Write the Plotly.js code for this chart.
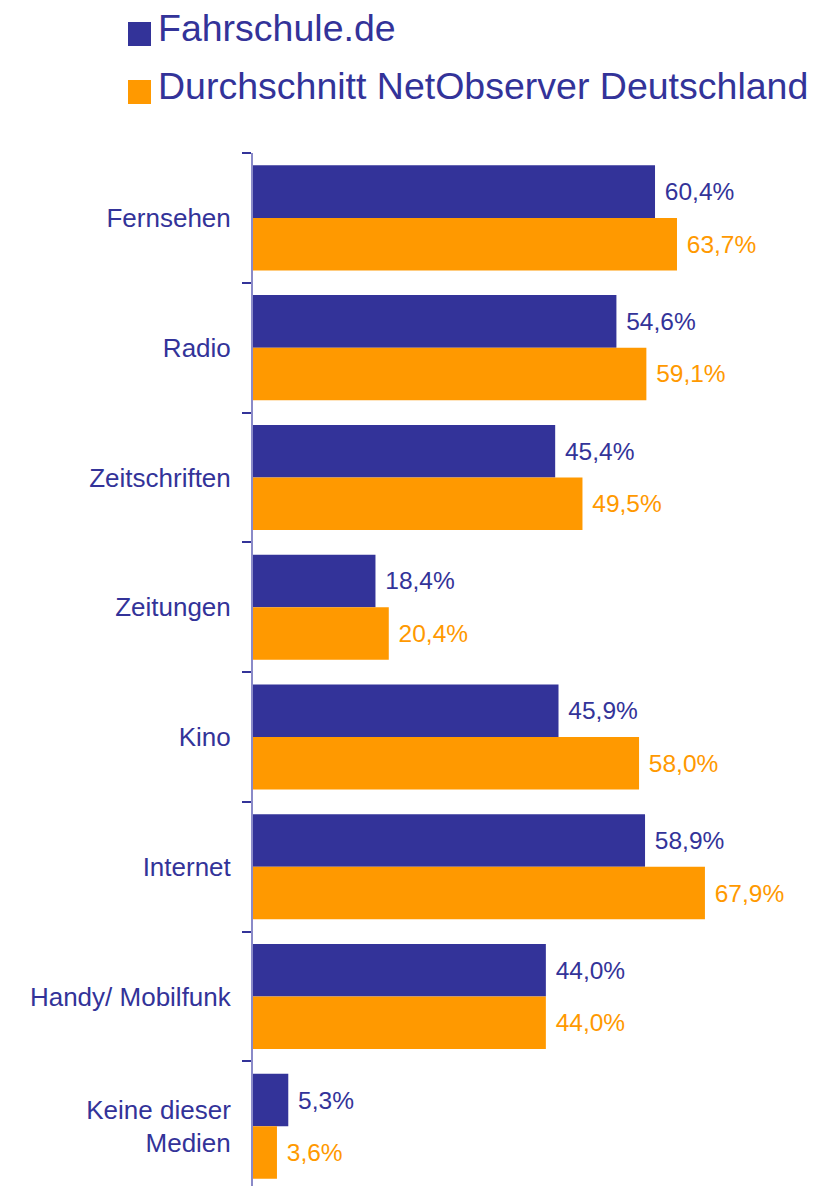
<!DOCTYPE html>
<html>
<head>
<meta charset="utf-8">
<script src="https://cdn.plot.ly/plotly-3.0.1.min.js"></script>
<style>html,body{margin:0;padding:0;background:#fff;}#chart{width:813px;height:1186px;}</style>
</head>
<body>
<div id="chart"></div>
<script>
const categories = ["Fernsehen", "Radio", "Zeitschriften", "Zeitungen", "Kino", "Internet", "Handy/ Mobilfunk", "Keine dieser<br>Medien"];
const fahrschule = [60.4, 54.6, 45.4, 18.4, 45.9, 58.9, 44.0, 5.3];
const durchschnitt = [63.7, 59.1, 49.5, 20.4, 58.0, 67.9, 44.0, 3.6];
const seriesNames = ["Fahrschule.de", "Durchschnitt NetObserver Deutschland"];

const BLUE = "#333399";
const ORANGE = "#FF9900";
const FONT = "Arial, 'Liberation Sans', sans-serif";

const fmt = v => "\u00a0" + v.toFixed(1).replace(".", ",") + "%";

const W = 813, H = 1186;
const mL = 253, mR = 0, mT = 153, mB = 0;
const pw = W - mL - mR, ph = H - mT - mB;
const px2x = p => (p - mL) / pw;
const px2y = p => (H - mB - p) / ph;

const traces = [
  {
    type: "bar", orientation: "h", name: seriesNames[0],
    y: categories, x: fahrschule,
    marker: {color: BLUE},
    text: fahrschule.map(fmt), textposition: "outside",
    outsidetextfont: {family: FONT, size: 24.5, color: BLUE},
    cliponaxis: false, hoverinfo: "none"
  },
  {
    type: "bar", orientation: "h", name: seriesNames[1],
    y: categories, x: durchschnitt,
    marker: {color: ORANGE},
    text: durchschnitt.map(fmt), textposition: "outside",
    outsidetextfont: {family: FONT, size: 24.5, color: ORANGE},
    cliponaxis: false, hoverinfo: "none"
  }
];

const legendRows = [
  {color: BLUE, text: seriesNames[0], cy: 33},
  {color: ORANGE, text: seriesNames[1], cy: 91}
];

const shapes = legendRows.map(r => ({
  type: "rect", xref: "paper", yref: "paper",
  x0: px2x(128), x1: px2x(151), y0: px2y(r.cy + 13), y1: px2y(r.cy - 11),
  fillcolor: r.color, line: {width: 0}
}));

const annotations = legendRows.map(r => ({
  xref: "paper", yref: "paper", x: px2x(156), y: px2y(r.cy - 5),
  xanchor: "left", yanchor: "middle", showarrow: false,
  text: r.text, font: {family: FONT, size: 37.5, color: BLUE}
}));

const layout = {
  width: W, height: H,
  margin: {l: mL, r: mR, t: mT, b: mB, pad: 0},
  paper_bgcolor: "#fff", plot_bgcolor: "#fff",
  barmode: "group", bargap: 0.19, bargroupgap: 0,
  showlegend: false,
  xaxis: {range: [0, pw / 6.656], visible: false, fixedrange: true},
  yaxis: {
    type: "category", range: [7.46, -0.5],
    showline: true, linecolor: "#8a8ac8", linewidth: 2,
    ticks: "outside", tickson: "boundaries", ticklen: 9, tickwidth: 2, tickcolor: BLUE,
    ticklabelstandoff: 15,
    tickfont: {family: FONT, size: 26, color: BLUE},
    showgrid: false, zeroline: false, fixedrange: true
  },
  shapes: shapes,
  annotations: annotations
};

Plotly.newPlot("chart", traces, layout, {staticPlot: true, displayModeBar: false});
</script>
</body>
</html>
